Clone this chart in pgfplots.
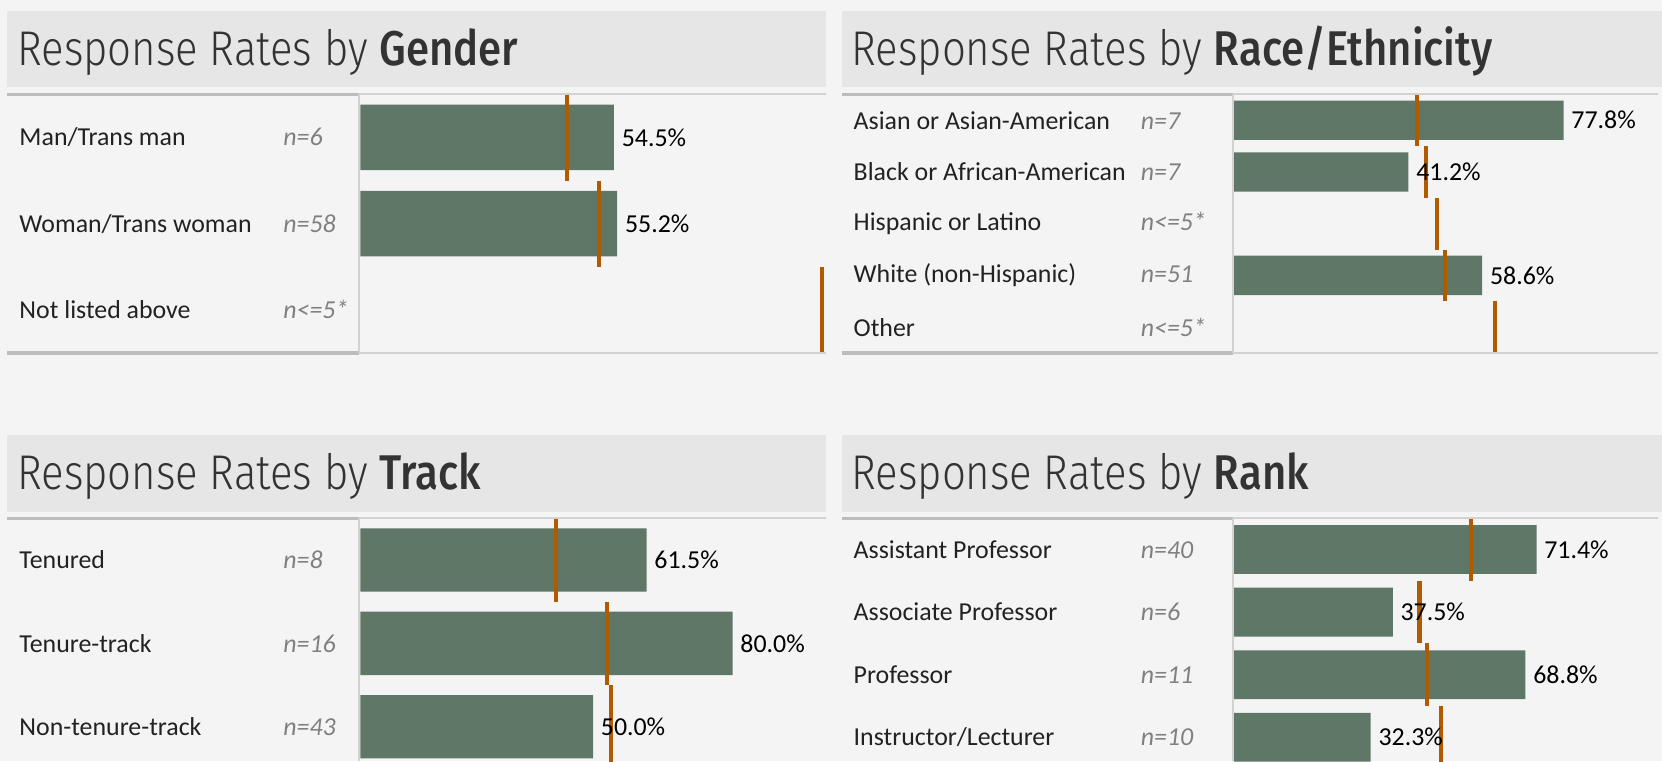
\documentclass[border=0pt]{standalone}
\usepackage{pgfplots}
\pgfplotsset{compat=1.18}
\usepackage{fontspec}
\setmainfont{Carlito}
\newfontfamily\tfont{Fira Sans}[UprightFont=* Light, BoldFont=* Medium, FakeStretch=0.86]
\definecolor{bg}{HTML}{F4F4F4}
\definecolor{band}{HTML}{E6E6E6}
\definecolor{barc}{HTML}{5F7767}
\definecolor{refc}{HTML}{B15B00}
\definecolor{ngray}{HTML}{808080}
\definecolor{ttl}{HTML}{333333}
\definecolor{labc}{HTML}{222222}
\definecolor{rulea}{HTML}{BDBDBD}
\definecolor{ruleb}{HTML}{D2D2D2}
\newcommand\lab{\fontsize{12.2pt}{14pt}\selectfont}
\newcommand\ttlfont{\tfont\fontsize{23pt}{27pt}\selectfont\color{ttl}}
\newcommand\RL[3]{\makebox[#1][l]{#2}{\color{ngray}\itshape #3}}
\pgfplotsset{
  panel/.style={scale only axis, anchor=south west, xmin=0, xmax=100, ymin=-0.5,
    y dir=reverse, axis line style={draw=none}, tick style={draw=none},
    major tick length=0pt, xtick=\empty,
    yticklabel style={anchor=west, inner sep=0pt, font=\lab, text=labc}},
  bars/.style={xbar, draw=none, fill=barc, bar width=#1, point meta=x,
    nodes near coords={\pgfmathprintnumber[fixed,fixed zerofill,precision=1,assume math mode=true]{\pgfplotspointmeta}\%},
    nodes near coords style={anchor=west, inner sep=0pt, xshift=3.5pt, font=\lab, text=black}},
  refl/.style={forget plot, draw=none, mark=none, error bars/.cd, y dir=both, y fixed=0.5,
    error mark=none, error bar style={draw=refc, line width=1.9pt, solid}}
}
\begin{document}
\begin{tikzpicture}[x=0.5pt,y=0.5pt]
\path[use as bounding box] (0,0) rectangle (1568,718);
\clip (0,0) rectangle (1568,718);
\fill[bg] (0,0) rectangle (1568,718);
% title bands
\fill[band] (7,636) rectangle (779,708);
\fill[band] (794,636) rectangle (1568,708);
\fill[band] (7,235) rectangle (779,308);
\fill[band] (794,235) rectangle (1568,308);
% titles
\node[anchor=base west, inner sep=0pt] at (16,656) {\ttlfont Response Rates by \textbf{Gender}};
\node[anchor=base west, inner sep=0pt] at (803,656) {\ttlfont Response Rates by \textbf{Race/Ethnicity}};
\node[anchor=base west, inner sep=0pt] at (16,256) {\ttlfont Response Rates by \textbf{Track}};
\node[anchor=base west, inner sep=0pt] at (803,256) {\ttlfont Response Rates by \textbf{Rank}};

% Gender
\begin{axis}[panel, at={(170pt,192.5pt)}, width=219.5pt, height=122pt, ymax=2.5,
  ytick={0,1,2}, yticklabel style={xshift=-161pt},
  yticklabels={\RL{124.5pt}{Man/Trans man}{n=6},\RL{124.5pt}{Woman/Trans woman}{n=58},\RL{124.5pt}{Not listed above}{n<=5*}}]
\addplot[bars=0.76] coordinates {(54.5,0) (55.2,1)};
\addplot[refl] coordinates {(44.4,0) (51.3,1) (99.1,2)};
\end{axis}

% Race
\begin{axis}[panel, at={(582pt,192.5pt)}, width=200pt, height=122pt, ymax=4.5,
  ytick={0,1,2,3,4}, yticklabel style={xshift=-179.5pt},
  yticklabels={\RL{135.5pt}{Asian or Asian-American}{n=7},\RL{135.5pt}{Black or African-American}{n=7},\RL{135.5pt}{Hispanic or Latino}{n<=5*},\RL{135.5pt}{White (non-Hispanic)}{n=51},\RL{135.5pt}{Other}{n<=5*}}]
\addplot[bars=0.76] coordinates {(77.8,0) (41.2,1) (58.6,3)};
\addplot[refl] coordinates {(43.3,0) (45.3,1) (48.0,2) (49.8,3) (61.5,4)};
\end{axis}

% Track
\begin{axis}[panel, at={(170pt,-3.5pt)}, width=219.5pt, height=118pt, ymax=2.5,
  ytick={0,1,2}, yticklabel style={xshift=-161pt},
  yticklabels={\RL{124.5pt}{Tenured}{n=8},\RL{124.5pt}{Tenure-track}{n=16},\RL{124.5pt}{Non-tenure-track}{n=43}}]
\addplot[bars=0.76] coordinates {(61.5,0) (80.0,1) (50.0,2)};
\addplot[refl] coordinates {(42.1,0) (53.1,1) (53.8,2)};
\end{axis}

% Rank
\begin{axis}[panel, at={(582pt,-3.5pt)}, width=200pt, height=118pt, ymax=3.5,
  ytick={0,1,2,3}, yticklabel style={xshift=-179.5pt},
  yticklabels={\RL{135.5pt}{Assistant Professor}{n=40},\RL{135.5pt}{Associate Professor}{n=6},\RL{135.5pt}{Professor}{n=11},\RL{135.5pt}{Instructor/Lecturer}{n=10}}]
\addplot[bars=0.78] coordinates {(71.4,0) (37.5,1) (68.8,2) (32.3,3)};
\addplot[refl] coordinates {(56.0,0) (43.8,1) (45.5,2) (48.8,3)};
\end{axis}

% rules
\draw[rulea, line width=1.5] (7,629) -- (339,629);
\draw[ruleb, line width=1] (339,629) -- (779,629);
\draw[rulea, line width=1.5] (7,385) -- (339,385);
\draw[ruleb, line width=1] (339,385) -- (779,385);
\draw[ruleb, line width=1] (339,385) -- (339,629);
\draw[rulea, line width=1.5] (794,629) -- (1163,629);
\draw[ruleb, line width=1] (1163,629) -- (1564,629);
\draw[rulea, line width=1.5] (794,385) -- (1163,385);
\draw[ruleb, line width=1] (1163,385) -- (1564,385);
\draw[ruleb, line width=1] (1163,385) -- (1163,629);
\draw[rulea, line width=1.5] (7,229) -- (339,229);
\draw[ruleb, line width=1] (339,229) -- (779,229);
\draw[ruleb, line width=1] (339,0) -- (339,229);
\draw[rulea, line width=1.5] (794,229) -- (1163,229);
\draw[ruleb, line width=1] (1163,229) -- (1564,229);
\draw[ruleb, line width=1] (1163,0) -- (1163,229);
\end{tikzpicture}
\end{document}
